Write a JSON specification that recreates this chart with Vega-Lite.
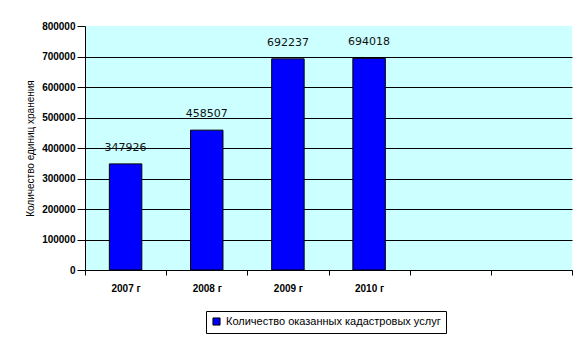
{
  "$schema": "https://vega.github.io/schema/vega-lite/v6.json",
  "width": 487,
  "height": 244,
  "autosize": {"type": "none"},
  "padding": {"left": 85, "top": 26, "right": 16, "bottom": 73},
  "background": "white",
  "config": {"view": {"fill": "#CCFFFF", "stroke": null}},
  "data": {
    "values": [
      {"year": "2007 г", "value": 347926, "series": "Количество оказанных кадастровых услуг"},
      {"year": "2008 г", "value": 458507, "series": "Количество оказанных кадастровых услуг"},
      {"year": "2009 г", "value": 692237, "series": "Количество оказанных кадастровых услуг"},
      {"year": "2010 г", "value": 694018, "series": "Количество оказанных кадастровых услуг"}
    ]
  },
  "encoding": {
    "x": {
      "field": "year",
      "type": "nominal",
      "sort": null,
      "scale": {"domain": ["2007 г", "2008 г", "2009 г", "2010 г", " ", "  "], "paddingInner": 0, "paddingOuter": 0},
      "axis": {
        "title": null,
        "labelAngle": 0,
        "tickBand": "extent",
        "domainColor": "black",
        "tickColor": "black",
        "tickSize": 5,
        "labelFont": "Liberation Sans",
        "labelFontSize": 10,
        "labelFontWeight": "bold",
        "labelColor": "black",
        "labelPadding": 8
      }
    },
    "y": {
      "field": "value",
      "type": "quantitative",
      "scale": {"domain": [0, 800000], "nice": false},
      "axis": {
        "title": "Количество единиц хранения",
        "titleFont": "Liberation Sans",
        "titleFontSize": 10,
        "titleFontWeight": "normal",
        "titleColor": "black",
        "titlePadding": 6,
        "values": [0, 100000, 200000, 300000, 400000, 500000, 600000, 700000, 800000],
        "format": "d",
        "grid": true,
        "gridColor": {"condition": {"test": "datum.value == 800000", "value": "transparent"}, "value": "black"},
        "gridWidth": 1,
        "domainColor": "black",
        "tickColor": "black",
        "tickSize": 8,
        "labelFont": "Liberation Sans",
        "labelFontSize": 10,
        "labelFontWeight": "bold",
        "labelColor": "black",
        "labelPadding": 2
      }
    }
  },
  "layer": [
    {
      "mark": {"type": "bar", "stroke": "black", "strokeWidth": 1, "width": {"band": 0.4}},
      "encoding": {
        "fill": {
          "field": "series",
          "type": "nominal",
          "scale": {"range": ["#0000FF"]},
          "legend": {
            "orient": "none",
            "legendX": 121,
            "legendY": 285,
            "title": null,
            "strokeColor": "black",
            "padding": 5,
            "symbolType": "square",
            "symbolSize": 50,
            "symbolStrokeColor": "black",
            "symbolStrokeWidth": 1,
            "labelFont": "Liberation Sans",
            "labelFontSize": 11,
            "labelColor": "black",
            "labelLimit": 400
          }
        }
      }
    },
    {
      "mark": {"type": "text", "dy": -13, "baseline": "alphabetic", "font": "DejaVu Sans", "fontSize": 11, "color": "#111111"},
      "encoding": {"text": {"field": "value", "type": "quantitative", "format": "d"}}
    }
  ]
}
